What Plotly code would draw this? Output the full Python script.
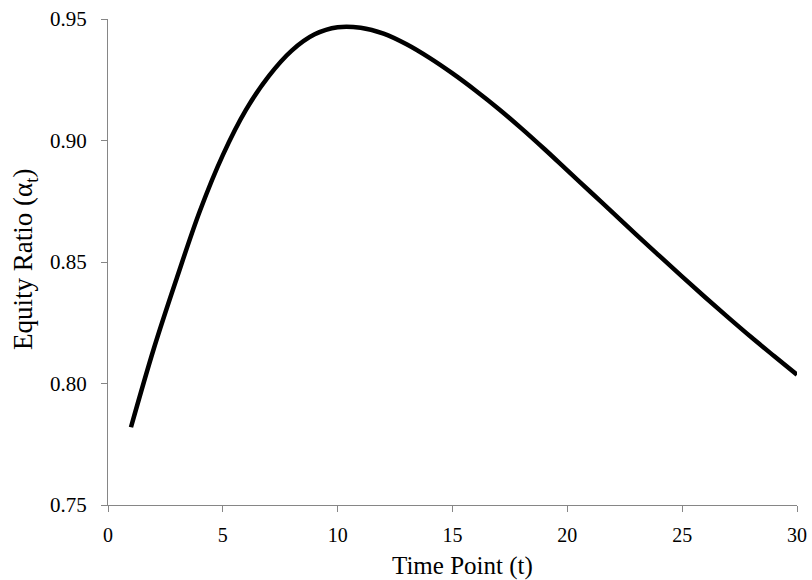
import plotly.graph_objects as go

time_points = list(range(1, 31))
equity_ratio = [0.7820, 0.8145, 0.8435, 0.8710, 0.8940, 0.9125, 0.9265, 0.9370, 0.9437, 0.9466,
                0.9464, 0.9440, 0.9396, 0.9340, 0.9276, 0.9206, 0.9131, 0.9050, 0.8965, 0.8877,
                0.8789, 0.8701, 0.8613, 0.8526, 0.8440, 0.8355, 0.8272, 0.8191, 0.8113, 0.8036]

x_ticks = [0, 5, 10, 15, 20, 25, 30]
y_ticks = [0.75, 0.80, 0.85, 0.90, 0.95]
y_tick_labels = ["0.75", "0.80", "0.85", "0.90", "0.95"]

FONT = "Liberation Serif, Times New Roman, serif"
AXIS_COLOR = "#868686"
W, H = 812, 580
ML, MR, MT, MB = 108, 15, 19, 75

fig = go.Figure()
fig.add_trace(go.Scatter(
    x=time_points, y=equity_ratio, mode="lines",
    line=dict(color="black", width=4.5, shape="spline", smoothing=1.0),
    showlegend=False, hoverinfo="skip",
))

fig.update_layout(
    width=W, height=H,
    margin=dict(l=ML, r=MR, t=MT, b=MB, autoexpand=False),
    paper_bgcolor="white", plot_bgcolor="white",
    font=dict(family=FONT, color="black", size=20),
    xaxis=dict(
        range=[0, 30], tickvals=x_ticks, ticktext=[str(v) for v in x_ticks],
        showgrid=False, zeroline=False, showline=True, linecolor=AXIS_COLOR, linewidth=1.3,
        ticks="outside", ticklen=6, tickcolor=AXIS_COLOR, tickwidth=1.3,
        tickfont=dict(family=FONT, size=20, color="black"), ticklabelstandoff=6,
        automargin=False,
    ),
    yaxis=dict(
        range=[0.75, 0.95], tickvals=y_ticks, ticktext=y_tick_labels,
        showgrid=False, zeroline=False, showline=True, linecolor=AXIS_COLOR, linewidth=1.3,
        ticks="outside", ticklen=6, tickcolor=AXIS_COLOR, tickwidth=1.3,
        tickfont=dict(family=FONT, size=21, color="black"), ticklabelstandoff=10,
        automargin=False,
    ),
    annotations=[
        dict(text="Time Point (t)", xref="paper", yref="paper",
             x=(462 - ML) / (W - ML - MR), y=-(566 - (H - MB)) / (H - MT - MB),
             xanchor="center", yanchor="middle", showarrow=False,
             font=dict(family=FONT, size=25, color="black")),
        dict(text="Equity Ratio (α<sub>t</sub>)", xref="paper", yref="paper",
             x=-(ML - 25) / (W - ML - MR), y=(H - MB - 260) / (H - MT - MB),
             xanchor="center", yanchor="middle", showarrow=False, textangle=-90,
             font=dict(family=FONT, size=27, color="black")),
    ],
)

fig.write_html("out.html")
